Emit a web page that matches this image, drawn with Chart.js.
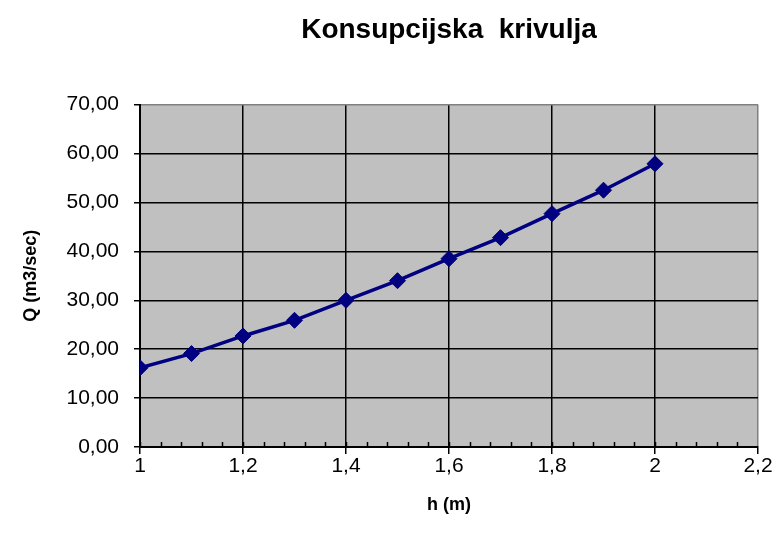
<!DOCTYPE html>
<html>
<head>
<meta charset="utf-8">
<script src="https://cdn.jsdelivr.net/npm/chart.js@4"></script>
<style>
  html, body { margin: 0; padding: 0; background: #fff; }
  #wrap { width: 778px; height: 541px; }
</style>
</head>
<body>
<div id="wrap"><canvas id="chart" width="778" height="541"></canvas></div>
<script>
var h_values = [1, 1.1, 1.2, 1.3, 1.4, 1.5, 1.6, 1.7, 1.8, 1.9, 2]
var q_values = [16.2, 19.1, 22.7, 25.9, 30.0, 34.0, 38.5, 42.8, 47.7, 52.5, 57.9]
var x_ticks = [1, 1.2, 1.4, 1.6, 1.8, 2, 2.2]
var y_ticks = [0, 10, 20, 30, 40, 50, 60, 70]

var points = h_values.map(function (h, i) { return { x: h, y: q_values[i] }; });

var plotBackground = {
    id: 'plotBackground',
    beforeDraw: function (chart) {
        var a = chart.chartArea, ctx = chart.ctx;
        ctx.save();
        ctx.fillStyle = '#c0c0c0';
        ctx.fillRect(a.left, a.top, a.right - a.left, a.bottom - a.top);
        ctx.restore();
    },
    afterDatasetsDraw: function (chart) {
        // minor ticks on the x axis, pointing into the plot
        var xs = chart.scales.x, a = chart.chartArea, ctx = chart.ctx;
        ctx.save();
        ctx.strokeStyle = '#000';
        ctx.lineWidth = 1.5;
        for (var v = 1; v < 2.2 - 1e-6; v += 0.04) {
            var px = Math.round(xs.getPixelForValue(v)) + 0.5;
            ctx.beginPath();
            ctx.moveTo(px, a.bottom);
            ctx.lineTo(px, a.bottom - 5);
            ctx.stroke();
        }
        ctx.restore();
    }
};

function near(a, b) { return Math.abs(a - b) < 1e-6; }

Chart.defaults.font.family = "'Liberation Sans', Arial, sans-serif";
Chart.defaults.color = '#000';

var myChart = new Chart(document.getElementById('chart'), {
    type: 'scatter',
    data: {
        datasets: [{
            data: points,
            showLine: true,
            borderColor: '#000080',
            backgroundColor: '#000080',
            borderWidth: 3.5,
            pointStyle: 'rectRot',
            pointRadius: 8,
            pointBorderWidth: 1,
            pointBorderColor: '#000080',
            pointBackgroundColor: '#000080'
        }]
    },
    options: {
        responsive: false,
        animation: false,
        layout: { padding: { left: 0, right: 20, top: 0, bottom: 0 } },
        plugins: {
            legend: { display: false },
            tooltip: { enabled: false },
            title: {
                display: true,
                fullSize: false,
                text: 'Konsupcijska  krivulja',
                font: { size: 28, weight: 'bold' },
                padding: { top: 13, bottom: 58 },
                color: '#000'
            }
        },
        scales: {
            x: {
                type: 'linear',
                min: 1,
                max: 2.2,
                afterBuildTicks: function (scale) {
                    scale.ticks = x_ticks.map(function (v) { return { value: v }; });
                },
                afterFit: function (scale) { scale.height = 94; },
                ticks: {
                    font: { size: 21 },
                    padding: 0,
                    maxRotation: 0,
                    callback: function (v) { return (Math.round(v * 10) / 10).toString().replace('.', ','); }
                },
                grid: {
                    color: function (c) { return c.tick && near(c.tick.value, 2.2) ? '#808080' : '#000'; },
                    tickColor: '#000',
                    lineWidth: 1.5,
                    tickLength: 7
                },
                border: { display: true, color: '#000', width: 2 },
                title: {
                    display: true,
                    text: 'h (m)',
                    font: { size: 18, weight: 'bold' },
                    padding: { top: 0, bottom: 25 }
                }
            },
            y: {
                min: 0,
                max: 70,
                afterBuildTicks: function (scale) {
                    scale.ticks = y_ticks.map(function (v) { return { value: v }; });
                },
                afterFit: function (scale) { scale.width = 140; },
                ticks: {
                    font: { size: 21 },
                    padding: 15,
                    callback: function (v) { return v.toFixed(2).replace('.', ','); }
                },
                grid: {
                    color: function (c) { return c.tick && near(c.tick.value, 70) ? '#808080' : '#000'; },
                    tickColor: '#000',
                    lineWidth: 1.5,
                    tickLength: 6
                },
                border: { display: true, color: '#000', width: 2 },
                title: {
                    display: true,
                    text: 'Q (m3/sec)',
                    font: { size: 18, weight: 'bold' },
                    padding: { top: 20, bottom: 0 }
                }
            }
        }
    },
    plugins: [plotBackground]
});
</script>
</body>
</html>
